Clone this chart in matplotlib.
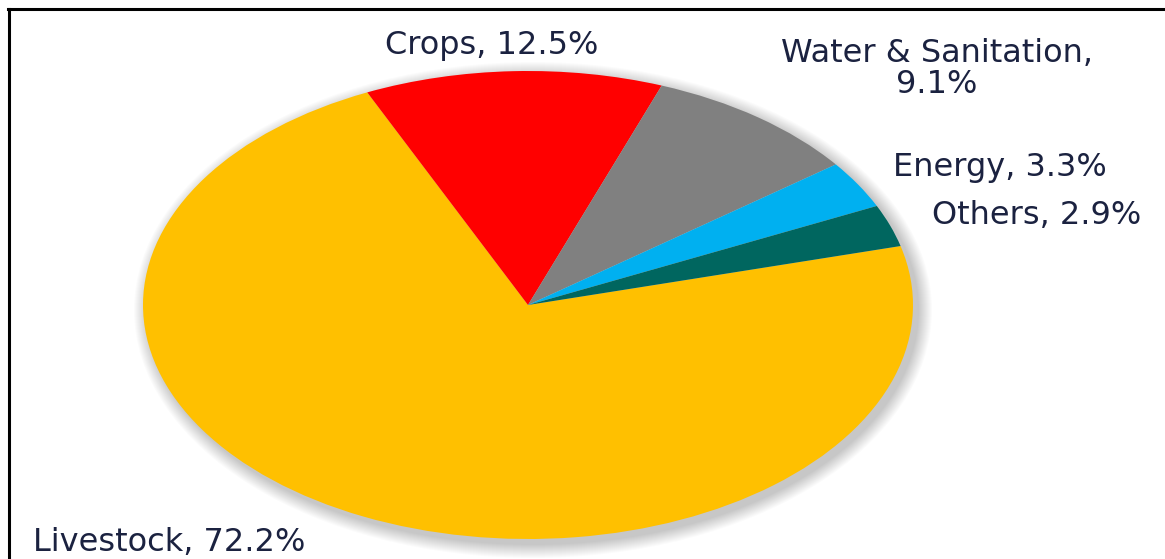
import matplotlib
matplotlib.use("Agg")
import matplotlib.pyplot as plt
from matplotlib.patches import Ellipse
from matplotlib.lines import Line2D

# Water use shares by sector
categories = ["Livestock", "Crops", "Water & Sanitation", "Energy", "Others"]
shares = [72.2, 12.5, 9.1, 3.3, 2.9]
colors = ["#FFC000", "#FF0000", "#808080", "#00B0F0", "#00665F"]

W, H = 1165, 559
fig = plt.figure(figsize=(W / 100, H / 100), dpi=100)
fig.patch.set_facecolor("white")

# Pie centre and radii in pixels (the pie is drawn as an ellipse)
cx, cy = 528, 305
rx, ry = 385, 234

ax = fig.add_axes([0, 0, 1, 1])

# Soft drop shadow under the pie, offset towards the lower right
for k in range(14, 0, -1):
    e = Ellipse((5 / rx, -5 / ry), 2 * (rx + k) / rx, 2 * (ry + k) / ry,
                facecolor="#000000", edgecolor="none", alpha=0.016, zorder=1)
    ax.add_patch(e)

wedges, _ = ax.pie(shares, colors=colors, startangle=14.6, counterclock=False,
                   radius=1.0, center=(0, 0), frame=True,
                   wedgeprops=dict(edgecolor="none", linewidth=0, zorder=2))
ax.set_xlim(-cx / rx, (W - cx) / rx)
ax.set_ylim(-(H - cy) / ry, cy / ry)
ax.set_aspect("auto")
ax.axis("off")

# Data labels, positioned in pixel coordinates (x centre, baseline y)
label_font = dict(family=["DejaVu Sans"], fontsize=23, color="#1B2240")
labels = [
    ("Crops, 12.5%", 492, 54),
    ("Water & Sanitation,", 937, 62),
    ("9.1%", 937, 93),
    ("Energy, 3.3%", 1000, 176),
    ("Others, 2.9%", 1037, 224),
    ("Livestock, 72.2%", 169, 551),
]
for txt, x, y in labels:
    fig.text(x / W, 1 - y / H, txt, ha="center", va="baseline", **label_font)

# Chart border (left and top edges)
fig.add_artist(Line2D([8.5 / W, 8.5 / W], [0, 1 - 8.5 / H], color="black",
                      linewidth=2.2, transform=fig.transFigure))
fig.add_artist(Line2D([7.5 / W, 1], [1 - 8.5 / H, 1 - 8.5 / H], color="black",
                      linewidth=2.2, transform=fig.transFigure))

fig.savefig("out.png", dpi=100, facecolor="white")
